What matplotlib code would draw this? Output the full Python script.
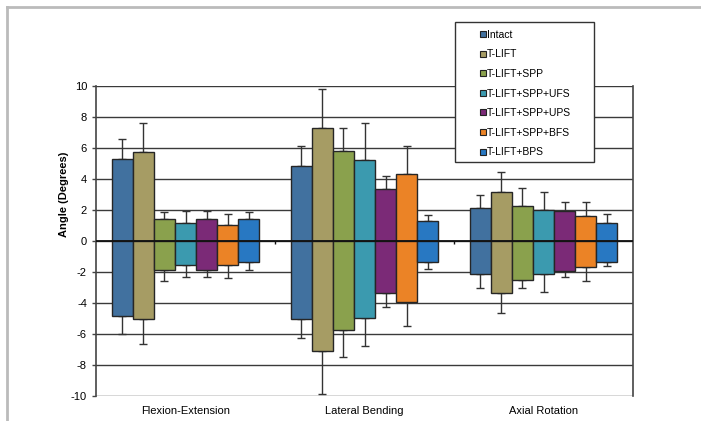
import numpy as np
import matplotlib.pyplot as plt
from matplotlib.lines import Line2D
from matplotlib.patches import Rectangle

plt.rcParams["font.family"] = ["Liberation Sans", "DejaVu Sans"]
plt.rcParams["axes.unicode_minus"] = False

categories = ["Flexion-Extension", "Lateral Bending", "Axial Rotation"]
groups = ["Intact", "T-LIFT", "T-LIFT+SPP", "T-LIFT+SPP+UFS",
          "T-LIFT+SPP+UPS", "T-LIFT+SPP+BFS", "T-LIFT+BPS"]
colors = ["#41719F", "#A69C64", "#8AA14D", "#3B9AAF", "#7B2A77", "#EB8326", "#2878C2"]

# positive side (mean, upper error end) per group, for each category
pos_mean = [
    [5.28, 4.83, 2.12],
    [5.73, 7.29, 3.15],
    [1.41, 5.79, 2.29],
    [1.19, 5.25, 1.97],
    [1.41, 3.34, 1.95],
    [1.06, 4.35, 1.60],
    [1.41, 1.32, 1.13],
]
pos_top = [
    [6.56, 6.13, 2.98],
    [7.60, 9.83, 4.48],
    [1.90, 7.29, 3.41],
    [1.95, 7.64, 3.19],
    [1.95, 4.20, 2.53],
    [1.75, 6.13, 2.53],
    [1.84, 1.67, 1.75],
]
neg_mean = [
    [-4.82, -5.03, -2.11],
    [-5.01, -7.07, -3.38],
    [-1.88, -5.74, -2.54],
    [-1.58, -4.97, -2.13],
    [-1.88, -3.36, -1.94],
    [-1.58, -3.92, -1.70],
    [-1.38, -1.38, -1.36],
]
neg_bot = [
    [-6.02, -6.24, -3.06],
    [-6.65, -9.89, -4.67],
    [-2.61, -7.48, -3.00],
    [-2.35, -6.80, -3.32],
    [-2.33, -4.24, -2.33],
    [-2.41, -5.48, -2.61],
    [-1.88, -1.79, -1.64],
]

W, H = 701, 421
fig = plt.figure(figsize=(W / 100, H / 100), dpi=100)
ax = fig.add_axes([96 / W, (H - 396) / H, (633 - 96) / W, (396 - 86) / H])

x = np.arange(len(categories))
n = len(groups)
bw = 1 / (n + 1.5)
edge = "#262626"

for i in range(n):
    xs = x + (i - (n - 1) / 2) * bw
    pm = np.array(pos_mean[i])
    nm = np.array(neg_mean[i])
    ax.bar(xs, pm, bw, color=colors[i], edgecolor=edge, linewidth=1, zorder=3)
    ax.bar(xs, nm, bw, color=colors[i], edgecolor=edge, linewidth=1, zorder=3)
    up = np.array(pos_top[i]) - pm
    dn = nm - np.array(neg_bot[i])
    ax.errorbar(xs, pm, yerr=[np.zeros_like(up), up], fmt="none", ecolor="#333333",
                elinewidth=1, capsize=3, capthick=1, zorder=2)
    ax.errorbar(xs, nm, yerr=[dn, np.zeros_like(dn)], fmt="none", ecolor="#333333",
                elinewidth=1, capsize=3, capthick=1, zorder=2)

ax.set_xlim(-0.5, len(categories) - 0.5)
ax.set_ylim(-10, 10)
ax.set_yticks(np.arange(-10, 11, 2))
ax.yaxis.grid(True, color="#3a3a3a", linewidth=1)
ax.set_axisbelow(True)
ax.axhline(0, color="#111111", linewidth=1.3, zorder=4)
ax.vlines(x[:-1] + 0.5, -0.2, 0, color="#111111", linewidth=1, zorder=4)

ax.set_xticks(x)
ax.set_xticklabels(categories, fontsize=8)
ax.tick_params(axis="x", length=0, pad=7)
ax.tick_params(axis="y", labelsize=8, length=3, color="#444444", width=1)
for s in ["left", "right"]:
    ax.spines[s].set_color("#444444")
    ax.spines[s].set_linewidth(1.2)
for s in ["top", "bottom"]:
    ax.spines[s].set_visible(False)

ax.set_ylabel("Angle (Degrees)", fontsize=8, fontweight="bold")
ax.yaxis.set_label_coords(-0.05, 0.652)

# legend box
fig.patches.append(Rectangle((455 / W, (H - 162) / H), (594 - 455) / W, (162 - 22) / H,
                             transform=fig.transFigure, facecolor="white",
                             edgecolor="#333333", linewidth=1, zorder=5))
handles = [Line2D([], [], marker="s", linestyle="none", markersize=4.5,
                  markerfacecolor=c, markeredgecolor="#222222", markeredgewidth=0.8)
           for c in colors]
fig.legend(handles, groups, loc="upper left", bbox_to_anchor=(473 / W, (H - 22.5) / H),
           frameon=False, fontsize=7.5, handlelength=0.6, handletextpad=0.05,
           labelspacing=0.92, borderpad=0.2)

# outer frame (top and left)
fig.add_artist(Line2D([7 / W, 1], [(H - 7) / H] * 2, color="#bbbbbb", linewidth=2))
fig.add_artist(Line2D([7 / W] * 2, [0, (H - 7) / H], color="#bbbbbb", linewidth=2))

fig.savefig("out.png", dpi=100)
